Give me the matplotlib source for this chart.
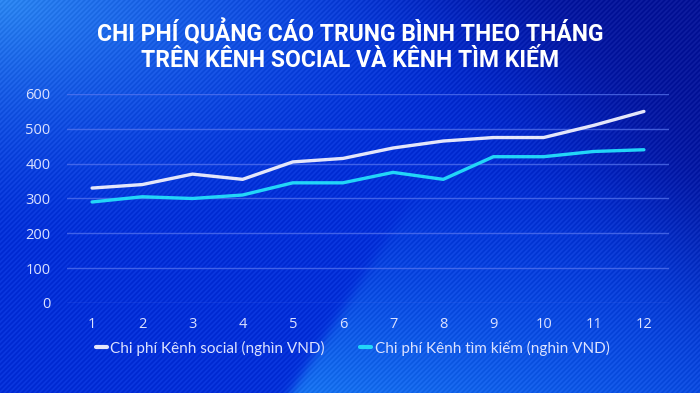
import numpy as np
import matplotlib.pyplot as plt
from matplotlib.colors import to_rgb

months = list(range(1, 13))
social = [330, 340, 370, 355, 405, 415, 445, 465, 475, 475, 510, 550]
search = [290, 305, 300, 310, 345, 345, 375, 355, 420, 420, 435, 440]
yticks = [0, 100, 200, 300, 400, 500, 600]
title = "CHI PHÍ QUẢNG CÁO TRUNG BÌNH THEO THÁNG\nTRÊN KÊNH SOCIAL VÀ KÊNH TÌM KIẾM"
label_social = "Chi phí Kênh social (nghìn VND)"
label_search = "Chi phí Kênh tìm kiếm (nghìn VND)"

W, H = 700, 393
fig = plt.figure(figsize=(7, 3.93), dpi=100)

# background gradient
bg = fig.add_axes([0, 0, 1, 1])
bg.axis('off')
xx, yy = np.meshgrid(np.arange(W), np.arange(H))
base = np.array(to_rgb('#0430d8'))
img = np.ones((H, W, 3)) * base
# light glow top-left
glow = np.clip(1 - np.hypot(xx / 520, yy / 250), 0, 1) ** 1.5
img = img * (1 - glow[..., None]) + np.array(to_rgb('#2c86f0')) * glow[..., None]
# navy top-right
d = (xx - 460) - yy * 0.95
navy = 1 / (1 + np.exp(-d / 55))
img = img * (1 - navy[..., None] * 0.9) + np.array(to_rgb('#081290')) * navy[..., None] * 0.9
# light band bottom
d2 = (yy - 393) + (xx - 290) * 1.6
band = 1 / (1 + np.exp(-d2 / 6)) * np.clip((yy - 170) / 223, 0, 1) ** 1.2
band *= np.clip(1 - (xx - 300) / 700, 0.3, 1)
img = img * (1 - band[..., None] * 0.85) + np.array(to_rgb('#1c80f4')) * band[..., None] * 0.85
# soft stripes
stripes = 0.03 * np.sin((xx + yy) * 2 * np.pi / 5)
img = np.clip(img + stripes[..., None], 0, 1)
bg.imshow(img, extent=[0, 1, 0, 1], aspect='auto', origin='upper')

ax = fig.add_axes([67 / W, 1 - 303 / H, (669 - 67) / W, (303 - 94) / H])
ax.patch.set_alpha(0)
ax.plot(months, social, color='#e4e6fa', lw=2.4, label=label_social, solid_capstyle='round')
ax.plot(months, search, color='#22d6f8', lw=2.4, label=label_search, solid_capstyle='round')
ax.set_xlim(0.5, 12.5)
ax.set_ylim(0, 600)
ax.set_yticks(yticks)
ax.set_xticks(months)
ax.grid(axis='y', color='#5a78f0', lw=1, alpha=0.7)
ax.set_axisbelow(True)
for s in ax.spines.values():
    s.set_visible(False)
ax.tick_params(length=0, colors='#dce2ff', labelsize=10.5)
ax.tick_params(axis='x', pad=10)
ax.tick_params(axis='y', pad=12)
for t in ax.get_xticklabels() + ax.get_yticklabels():
    t.set_fontfamily('Open Sans')

fig.text(0.5, 1 - 46 / H, title, ha='center', va='center', color='white',
         fontsize=16.5, fontweight='bold', family='Roboto', linespacing=1.15)

leg = fig.legend(loc='center left', bbox_to_anchor=(82 / W, 1 - 348 / H), ncol=2,
                 frameon=False, handlelength=0.75, handletextpad=0.2, columnspacing=2.3,
                 prop={'family': 'Lato', 'size': 11})
for t in leg.get_texts():
    t.set_color('#dce2ff')
for h in leg.get_lines():
    h.set_linewidth(3)

fig.savefig('out.png', dpi=100)
